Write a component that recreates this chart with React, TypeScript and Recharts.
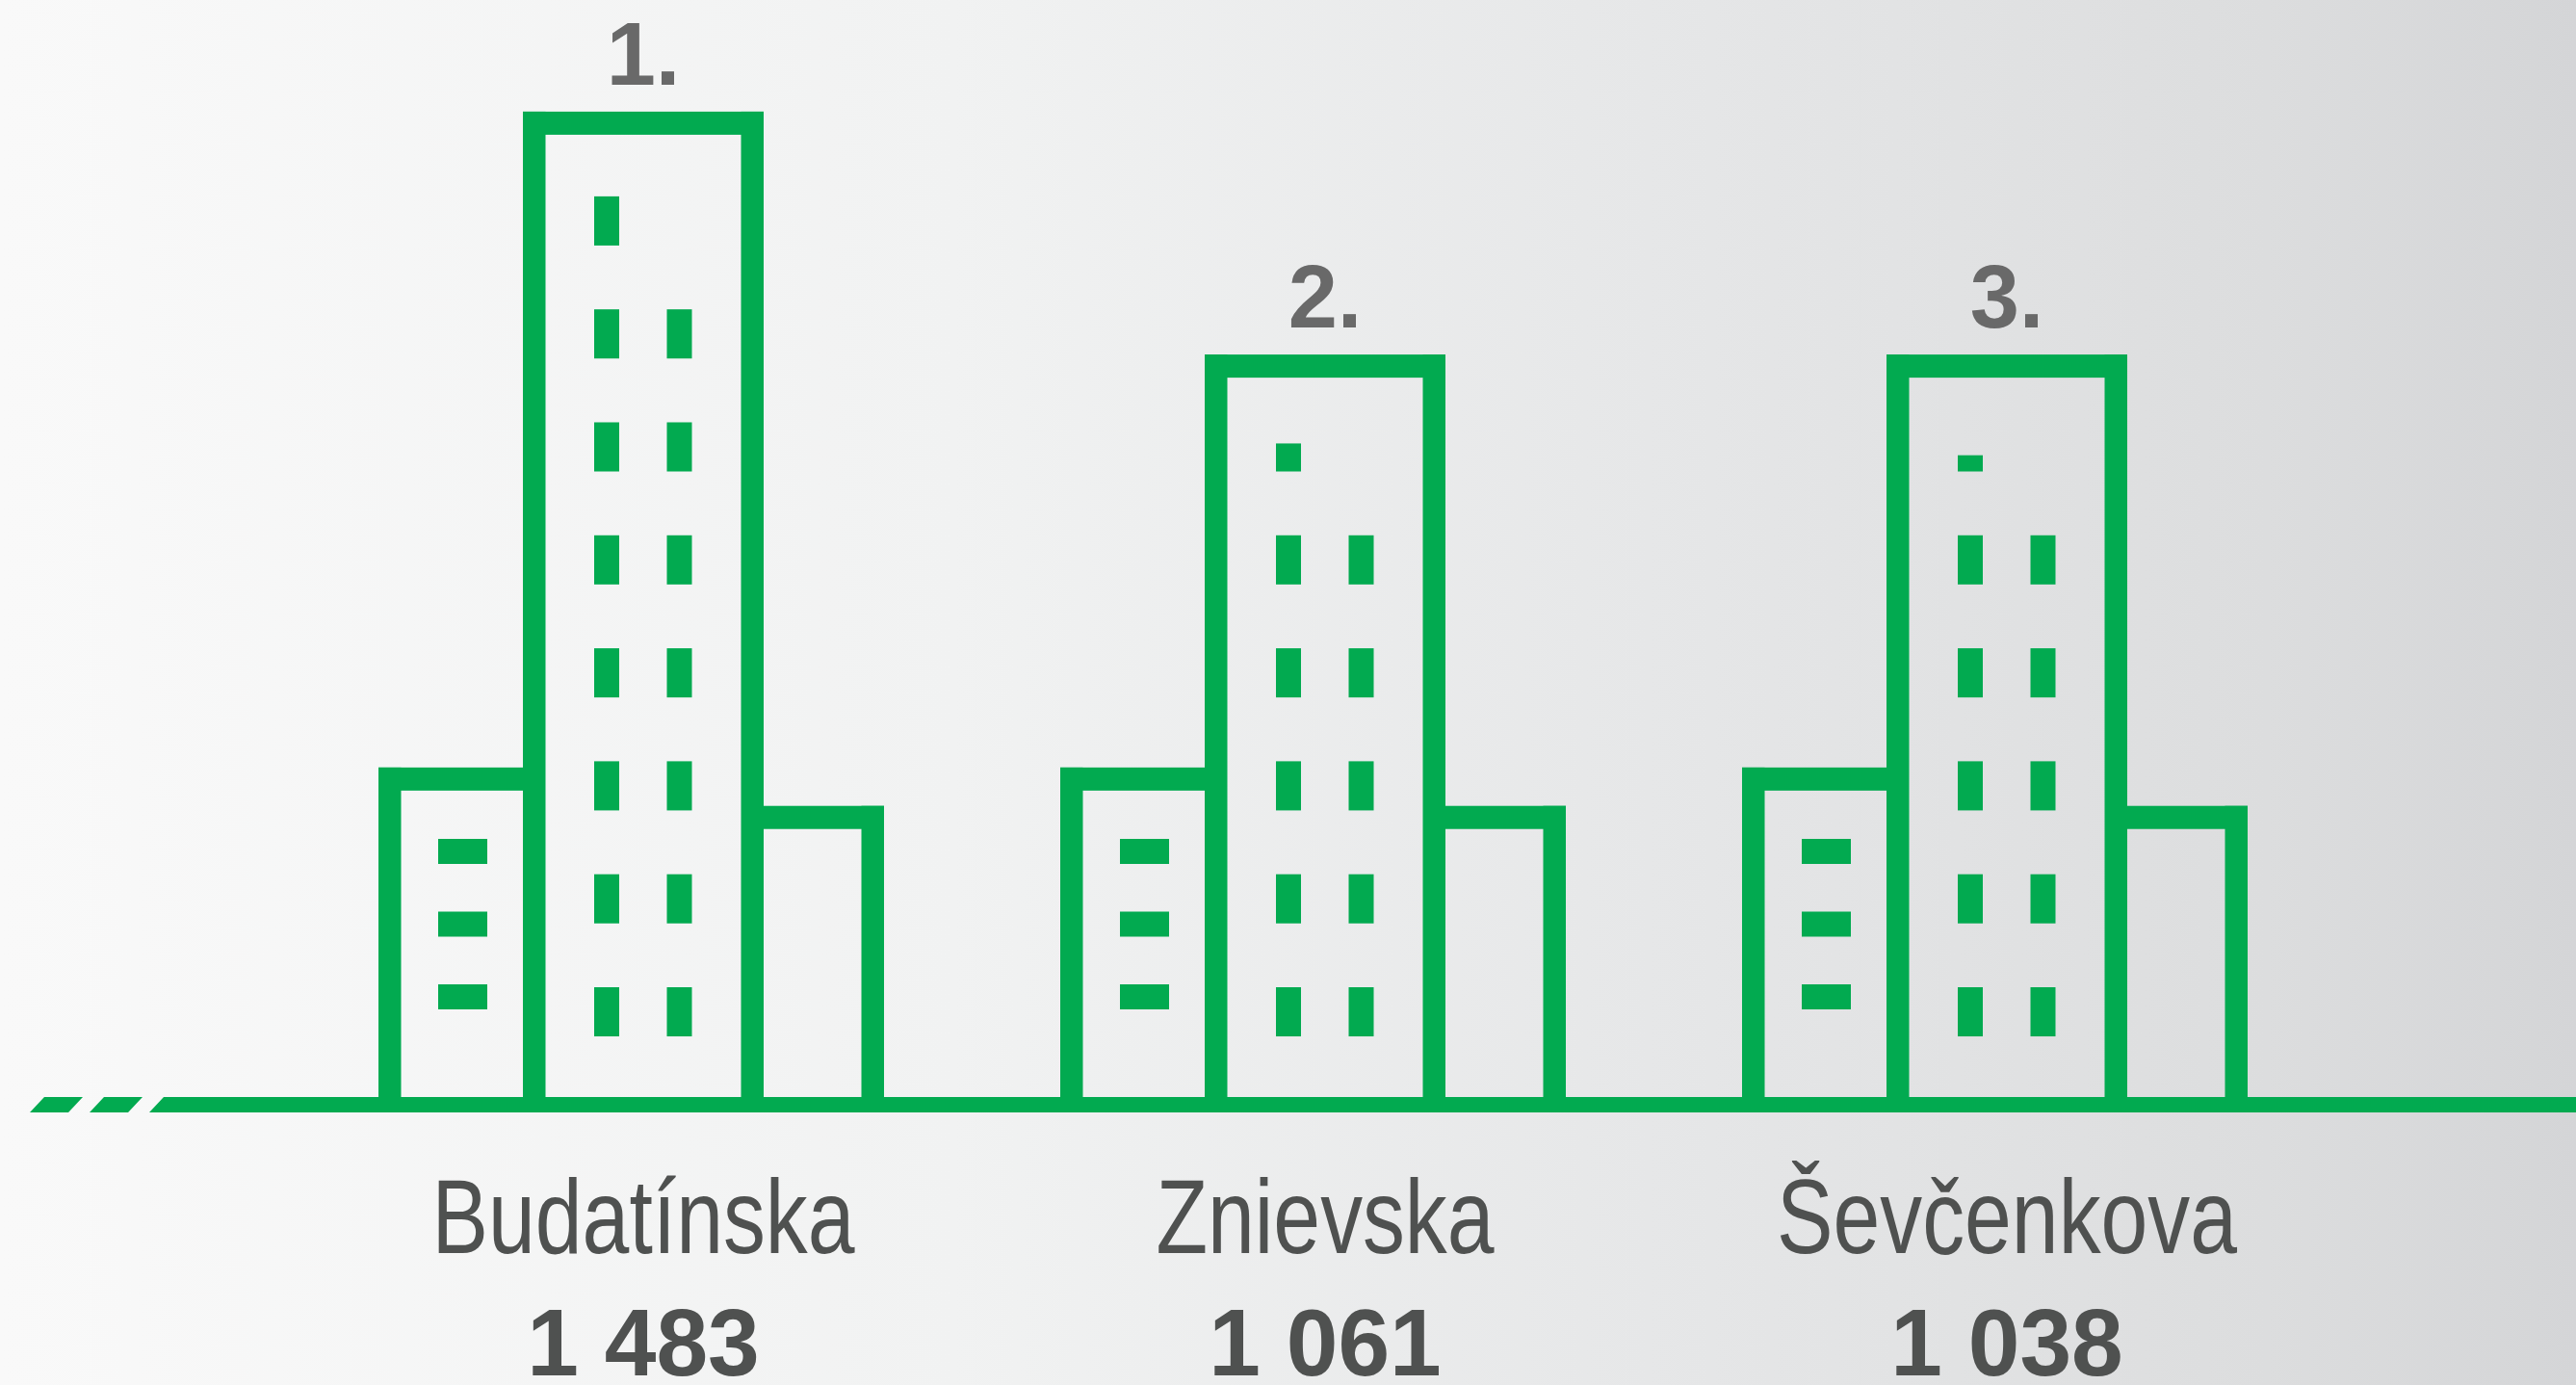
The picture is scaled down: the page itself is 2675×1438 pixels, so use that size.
import { BarChart, Bar, XAxis, YAxis, LabelList, Customized } from "recharts";

const streets = ["Budatínska", "Znievska", "Ševčenkova"];
const counts = ["1 483", "1 061", "1 038"];
const ranks = ["1.", "2.", "3."];
// heights in floors of the pictogram, windows = lit windows (fraction = partly lit last one)
const towerFloors = [8.79, 6.64, 6.64];
const leftWingFloors = [2.985, 2.985, 2.985];
const rightWingFloors = [2.645, 2.645, 2.645];
const windows = [15, 10.57, 10.33];

const data = streets.map((street, i) => ({
  street,
  count: counts[i],
  rank: ranks[i],
  tower: towerFloors[i],
  leftWing: leftWingFloors[i],
  rightWing: rightWingFloors[i],
  windows: windows[i],
}));

const GREEN = "#02aa50";
const WALL = 23.5;
const FONT = "'Liberation Sans', Arial, sans-serif";

function TowerShape({ x, y, width, height, payload }: any) {
  const floorPx = height / payload.tower;
  const zero = y + height;
  const total = Math.ceil(payload.windows);
  const fill = payload.windows % 1 || 1;
  const winH = 0.435 * floorPx;
  const panes = [];
  for (let i = 0; i < total; i++) {
    const row = Math.floor(i / 2);
    const side = i % 2;
    const h = i === total - 1 ? winH * fill : winH;
    const bottom = zero - (0.605 + row) * floorPx;
    panes.push(
      <rect key={i} x={x + (side ? 149.5 : 74)} y={bottom - h} width={26} height={h} fill={GREEN} />
    );
  }
  return (
    <g>
      <rect x={x} y={y} width={width} height={24} fill={GREEN} />
      <rect x={x} y={y} width={WALL} height={height} fill={GREEN} />
      <rect x={x + width - WALL} y={y} width={WALL} height={height} fill={GREEN} />
      {panes}
    </g>
  );
}

function LeftWingShape({ x, y, width, height }: any) {
  const w = width * 0.6;
  const zero = y + height;
  return (
    <g>
      <rect x={x - w} y={y} width={w} height={24} fill={GREEN} />
      <rect x={x - w} y={y} width={WALL} height={height} fill={GREEN} />
      {[0, 1, 2].map((i) => (
        <rect key={i} x={x - w + 62} y={zero - 125 - i * 75.5} width={51} height={26} fill={GREEN} />
      ))}
    </g>
  );
}

function RightWingShape({ x, y, width, height }: any) {
  const w = width * 0.5;
  const left = x + width;
  return (
    <g>
      <rect x={left} y={y} width={w} height={24} fill={GREEN} />
      <rect x={left + w - WALL} y={y} width={WALL} height={height} fill={GREEN} />
    </g>
  );
}

const RankLabel = ({ x, y, width, value }: any) => (
  <text
    x={x + width / 2}
    y={y - 28}
    textAnchor="middle"
    fontFamily={FONT}
    fontWeight={700}
    fontSize={92}
    fill="#696969"
  >
    {value}
  </text>
);

const StreetTick = ({ x, payload, index }: any) => (
  <g>
    {/* the reference uses a condensed face, Liberation Sans squeezed to fit */}
    <text
      transform={`translate(${x} 1301) scale(0.805 1)`}
      textAnchor="middle"
      fontFamily={FONT}
      fontSize={109}
      fill="#4f5150"
    >
      {payload.value}
    </text>
    <text
      transform={`translate(${x} 1428) scale(0.985 1)`}
      textAnchor="middle"
      fontFamily={FONT}
      fontWeight={700}
      fontSize={98}
      fill="#4f5150"
    >
      {counts[index]}
    </text>
  </g>
);

// broken start of the ground line
const AxisBreak = () => (
  <g fill={GREEN}>
    <polygon points="31,1155 46,1139 86,1139 71,1155" />
    <polygon points="93,1155 108,1139 148,1139 133,1155" />
    <polygon points="155,1155 170,1139 170,1155" />
  </g>
);

export default function App() {
  return (
    <div
      style={{
        position: "fixed",
        left: 0,
        top: 0,
        width: 2675,
        height: 1438,
        overflow: "hidden",
        background:
          "linear-gradient(90deg, #f9f9f9 0%, #f1f2f2 37%, #e6e7e8 64%, #dcddde 88%, #d4d5d7 100%)",
      }}
    >
      <BarChart
        width={2675}
        height={1438}
        data={data}
        margin={{ top: 0, right: 0, bottom: 0, left: 170 }}
        barSize={250}
        barGap={-250}
      >
        <YAxis hide domain={[0, 9.778]} />
        <XAxis
          dataKey="street"
          height={291}
          padding={{ left: 144, right: 237 }}
          interval={0}
          tickLine={false}
          tick={<StreetTick />}
          axisLine={{ stroke: GREEN, strokeWidth: 16 }}
        />
        <Bar dataKey="leftWing" shape={<LeftWingShape />} isAnimationActive={false} />
        <Bar dataKey="rightWing" shape={<RightWingShape />} isAnimationActive={false} />
        <Bar dataKey="tower" shape={<TowerShape />} isAnimationActive={false}>
          <LabelList dataKey="rank" content={<RankLabel />} />
        </Bar>
        <Customized component={<AxisBreak />} />
      </BarChart>
    </div>
  );
}
